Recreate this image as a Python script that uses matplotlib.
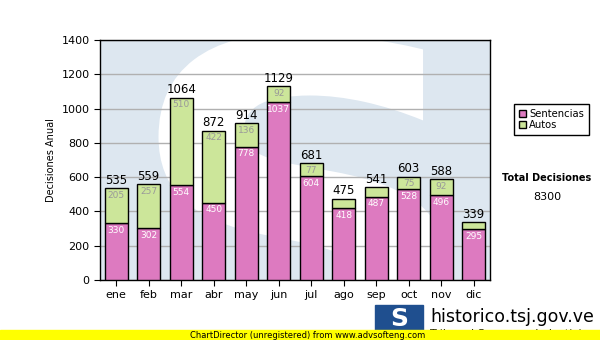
import matplotlib.pyplot as plt
import matplotlib.patches as mpatches
from matplotlib.textpath import TextPath
from matplotlib.font_manager import FontProperties
from matplotlib.transforms import Affine2D

meses = ['ene', 'feb', 'mar', 'abr', 'may', 'jun', 'jul', 'ago', 'sep', 'oct', 'nov', 'dic']
sentencias = [330, 302, 554, 450, 778, 1037, 604, 418, 487, 528, 496, 295]
autos = [205, 257, 510, 422, 136, 92, 77, 57, 54, 75, 92, 44]

pink = '#dd7ac0'
green = '#cce69a'

fig = plt.figure(figsize=(6, 3.4), dpi=100)
ax = fig.add_axes([100 / 600, 60 / 340, 390 / 600, 240 / 340])

# watermark: pale logo square with a white S (drawn as a shape, not text)
ax.set_facecolor('#dde7f0')
tp = TextPath((0, 0), 'S', size=1, prop=FontProperties(family='DejaVu Sans', weight='bold'))
bb = tp.get_extents()
tr = (Affine2D().translate(-bb.x0, -bb.y0)
      .scale(0.74 / bb.width, 1.45 / bb.height)
      .translate(0.15, -0.42) + ax.transAxes)
ax.add_patch(mpatches.PathPatch(tp, transform=tr, facecolor='white', edgecolor='none',
                                zorder=0))

x = range(len(meses))
ax.bar(x, sentencias, width=0.7, color=pink, edgecolor='black', linewidth=1, zorder=3)
ax.bar(x, autos, width=0.7, bottom=sentencias, color=green, edgecolor='black',
       linewidth=1, zorder=3)

for i in x:
    s, a = sentencias[i], autos[i]
    tot = s + a
    ax.text(i, tot + 8, str(tot), ha='center', va='bottom', fontsize=8.5, zorder=4)
    ax.text(i, s - 15, str(s), ha='center', va='top', fontsize=6.5, color='white', zorder=4)
    if a >= 70:
        ax.text(i, tot - 15, str(a), ha='center', va='top', fontsize=6.5,
                color='#999999', zorder=4)

ax.set_xlim(-0.5, 11.5)
ax.set_ylim(0, 1400)
ax.set_yticks(range(0, 1401, 200))
ax.set_xticks(list(x))
ax.set_xticklabels(meses)
ax.tick_params(labelsize=8, length=4)
ax.yaxis.grid(True, color='#b0b0b0', linewidth=1, zorder=1)
ax.set_axisbelow(True)
ax.set_ylabel('Decisiones Anual', fontsize=7)
for sp in ax.spines.values():
    sp.set_linewidth(1)

# legend box on the right
handles = [mpatches.Patch(facecolor=pink, edgecolor='black', label='Sentencias'),
           mpatches.Patch(facecolor=green, edgecolor='black', label='Autos')]
leg = fig.legend(handles=handles, loc='upper left', bbox_to_anchor=(509 / 600, 1 - 99 / 340),
                 fontsize=7.2, fancybox=False, edgecolor='black', framealpha=1,
                 handlelength=0.7, handleheight=0.7, handletextpad=0.3, borderpad=0.5,
                 labelspacing=0.1)
leg.get_frame().set_linewidth(1)

fig.text(547 / 600, 1 - 178 / 340, 'Total Decisiones', ha='center', va='center',
         fontsize=7, fontweight='bold')
fig.text(547 / 600, 1 - 197 / 340, '8300', ha='center', va='center', fontsize=8)

# footer: logo, site and ChartDirector band
fig.patches.append(mpatches.Rectangle((375 / 600, 6 / 340), 48 / 600, 29 / 340,
                                      transform=fig.transFigure, color='#1f4f8f'))
fig.text(399 / 600, 21 / 340, 'S', ha='center', va='center', fontsize=18,
         fontweight='bold', color='white')
fig.text(430 / 600, 23 / 340, 'historico.tsj.gov.ve', ha='left', va='center', fontsize=12.5)
fig.text(430 / 600, 6 / 340, 'Tribunal Supremo de Justicia', ha='left', va='center',
         fontsize=8, zorder=1)
fig.patches.append(mpatches.Rectangle((0, 0), 1, 10 / 340, transform=fig.transFigure,
                                      color='#ffff00', zorder=5))
fig.text(190 / 600, 5 / 340, 'ChartDirector (unregistered) from www.advsofteng.com',
         ha='left', va='center', fontsize=6, zorder=6)

fig.savefig('out.png', dpi=100)
